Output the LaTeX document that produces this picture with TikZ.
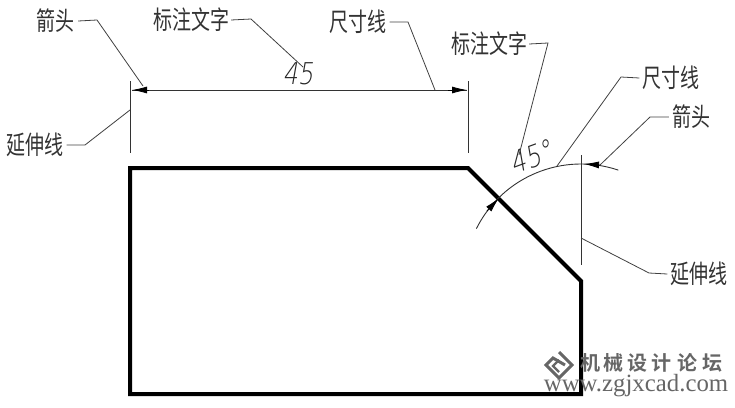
\documentclass[tikz,border=0pt]{standalone}
\usepackage{fontspec}
\usepackage{graphicx}
\usetikzlibrary{arrows.meta}
\setmainfont{Liberation Sans}
\newfontfamily\cjk{Noto Sans CJK SC}
\newfontfamily\cjkb{Noto Sans CJK SC Bold}
\newfontfamily\wmserif{Liberation Serif}
\newfontfamily\cadfont[FakeSlant=0.22]{DejaVu Sans ExtraLight}
\newcommand{\lab}[1]{\scalebox{1}[1.35]{\fontsize{19pt}{20pt}\cjk #1}}
\newcommand{\cadnum}[1]{\scalebox{0.8}[1]{\fontsize{30pt}{30pt}\cadfont #1}}
\newcommand{\wm}[1]{\fontsize{20pt}{21pt}\cjkb #1}
\tikzset{
  x=1pt,y=-1pt,
  outline/.style={line width=4pt,draw=black,line join=miter},
  thinline/.style={line width=0.9pt,draw=black!80},
  leader/.style={line width=0.8pt,draw=black!75},
  tipped/.style={line width=0.8pt,draw=black,-{Latex[length=15pt,width=7pt]}},
  callout/.style={inner sep=0pt,text=black!80},
  cadtext/.style={inner sep=0pt,text=black!85},
  wmark/.style={inner sep=0pt,text=black!60},
}
\begin{document}
\begin{tikzpicture}
\useasboundingbox (0,0) rectangle (735,407);
% outline
\coordinate (p1) at (130,168);
\coordinate (p2) at (468,168);
\coordinate (p3) at (581,281);
\coordinate (p4) at (581,394);
\coordinate (p5) at (130,394);
\draw[outline] (p1) -- (p2) -- (p3) -- (p4) -- (p5) -- cycle;
% extension lines
\coordinate (e1a) at (130,81); \coordinate (e1b) at (130,153);
\coordinate (e2a) at (468,81); \coordinate (e2b) at (468,153);
\coordinate (e3a) at (581,155); \coordinate (e3b) at (581,265);
\draw[thinline] (e1a) -- (e1b);
\draw[thinline] (e2a) -- (e2b);
\draw[thinline] (e3a) -- (e3b);
% linear dimension
\coordinate (d1) at (132,90); \coordinate (d2) at (467,90);
\draw[thinline] (d1) -- (d2);
\coordinate (a1t) at (149,90); \coordinate (a2t) at (448,90);
\draw[tipped] (a1t) -- (d1);
\draw[tipped] (a2t) -- (d2);
\node[cadtext] (t45) at (298,74) {\cadnum{45}};
% angular dimension
\coordinate (ctr) at (581,281);
\draw[thinline] (ctr) ++(153.4:117 and -117) arc[start angle=-153.4,end angle=-71.4,radius=117];
\coordinate (b1t) at (487,211); \coordinate (b1) at (499,198);
\coordinate (b2t) at (600,165); \coordinate (b2) at (584,164);
\draw[tipped] (b1t) -- (b1);
\draw[tipped] (b2t) -- (b2);
\node[cadtext,rotate=20] (t45d) at (531,157) {\cadnum{45°}};
% callouts
\node[callout] (c1) at (55,21) {\lab{箭头}};
\coordinate (c1e) at (97,20); \coordinate (c1t) at (143,86);
\draw[leader] (c1.east) ++(4,0) -- (c1e) -- (c1t);
\node[callout] (c2) at (191,20) {\lab{标注文字}};
\coordinate (c2e) at (251,19); \coordinate (c2t) at (303,67);
\draw[leader] (c2.east) ++(2,0) -- (c2e) -- (c2t);
\node[callout] (c3) at (35,145) {\lab{延伸线}};
\coordinate (c3e) at (85,145); \coordinate (c3t) at (130,110);
\draw[leader] (c3.east) ++(3,0) -- (c3e) -- (c3t);
\node[callout] (c4) at (358,22) {\lab{尺寸线}};
\coordinate (c4e) at (408,22); \coordinate (c4t) at (435,90);
\draw[leader] (c4.east) ++(3,0) -- (c4e) -- (c4t);
\node[callout] (c5) at (489,44) {\lab{标注文字}};
\coordinate (c5e) at (548,43); \coordinate (c5t) at (519,155);
\draw[leader] (c5.east) ++(2,0) -- (c5e) -- (c5t);
\node[callout] (c6) at (671,78) {\lab{尺寸线}};
\coordinate (c6e) at (621,77); \coordinate (c6t) at (557,166);
\draw[leader] (c6.west) ++(-3,0) -- (c6e) -- (c6t);
\node[callout] (c7) at (691,117) {\lab{箭头}};
\coordinate (c7e) at (650,117); \coordinate (c7t) at (600,165);
\draw[leader] (c7.west) ++(-3,0) -- (c7e) -- (c7t);
\node[callout] (c8) at (699,274) {\lab{延伸线}};
\coordinate (c8e) at (649,273); \coordinate (c8t) at (581,238);
\draw[leader] (c8.west) ++(-3,0) -- (c8e) -- (c8t);
% watermark
\draw[line width=3pt,draw=black!60,line join=miter] (559,352) -- (572,365) -- (559,378) -- (546,365) -- (553,358) -- (565,365);
\draw[line width=2.4pt,draw=black!60] (559,360) -- (553,366) -- (559,372);
\node[wmark] (w1) at (590,363) {\wm{机}};
\node[wmark] (w2) at (613,363) {\wm{械}};
\node[wmark] (w3) at (637,363) {\wm{设}};
\node[wmark] (w4) at (661,363) {\wm{计}};
\node[wmark] (w5) at (687,363) {\wm{论}};
\node[wmark] (w6) at (712,363) {\wm{坛}};
\node[wmark] (w7) at (636,386) {\fontsize{24.8pt}{25pt}\wmserif www.zgjxcad.com};
\end{tikzpicture}
\end{document}
